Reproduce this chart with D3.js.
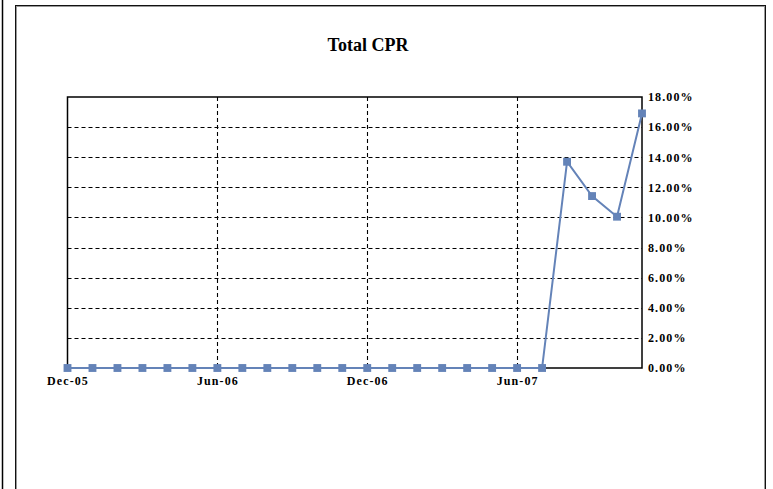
<!DOCTYPE html>
<html>
<head>
<meta charset="utf-8">
<script src="https://cdn.jsdelivr.net/npm/d3@7/dist/d3.min.js"></script>
<style>
  html, body { margin: 0; padding: 0; background: #fff; }
  svg { display: block; }
  .lbl { font-family: "Liberation Serif", "DejaVu Serif", serif; font-weight: bold; font-size: 12px; letter-spacing: 1.1px; fill: #000; }
</style>
</head>
<body>
<svg id="chart" width="773" height="489"></svg>
<script>
// Monthly observation labels, Dec-05 through Nov-07
const months = [
  "Dec-05","Jan-06","Feb-06","Mar-06","Apr-06","May-06","Jun-06","Jul-06",
  "Aug-06","Sep-06","Oct-06","Nov-06","Dec-06","Jan-07","Feb-07","Mar-07",
  "Apr-07","May-07","Jun-07","Jul-07","Aug-07","Sep-07","Oct-07","Nov-07"
];
// Total CPR for each month (fraction)
const cpr = [
  0,0,0,0,0,0,0,0,0,0,0,0,0,0,0,0,0,0,0,0,
  0.1370, 0.1142, 0.1005, 0.1691
];
// Labelled months on the date axis
const xTickLabels = ["Dec-05","Jun-06","Dec-06","Jun-07"];
// Value axis ticks
const yTicks = [0,0.02,0.04,0.06,0.08,0.10,0.12,0.14,0.16,0.18];

const svg = d3.select("#chart");

// outer frame
svg.append("line").attr("x1",2.5).attr("x2",2.5).attr("y1",0).attr("y2",489)
  .attr("stroke","#000").attr("stroke-width",1.5);
svg.append("rect").attr("x",15.5).attr("y",5.5).attr("width",750).attr("height",500)
  .attr("fill","none").attr("stroke","#111").attr("stroke-width",1);
svg.append("rect").attr("x",16.5).attr("y",6.5).attr("width",748).attr("height",500)
  .attr("fill","none").attr("stroke","#9a9a9a").attr("stroke-width",1);

const plot = {left: 67.5, right: 642, top: 97, bottom: 368};

const x = d3.scalePoint().domain(months).range([plot.left, plot.right]);
const y = d3.scaleLinear().domain([0, 0.18]).range([plot.bottom, plot.top]);

// title
svg.append("text")
  .attr("x", 368).attr("y", 51)
  .attr("text-anchor","middle")
  .style("font-family", '"Liberation Serif", "DejaVu Serif", serif')
  .style("font-weight","bold").style("font-size","18px")
  .text("Total CPR");

// horizontal dashed gridlines
svg.append("g").selectAll("line")
  .data(yTicks.filter(v => v > 0 && v < 0.18))
  .join("line")
  .attr("x1", plot.left).attr("x2", plot.right)
  .attr("y1", d => Math.round(y(d)) + 0.5).attr("y2", d => Math.round(y(d)) + 0.5)
  .attr("stroke","#000").attr("stroke-width",1.1).attr("stroke-dasharray","4,3");

// vertical dashed gridlines at labelled months
svg.append("g").selectAll("line")
  .data(xTickLabels.slice(1))
  .join("line")
  .attr("x1", d => Math.round(x(d)) + 0.5).attr("x2", d => Math.round(x(d)) + 0.5)
  .attr("y1", plot.top).attr("y2", plot.bottom)
  .attr("stroke","#000").attr("stroke-width",1.1).attr("stroke-dasharray","4,3");

// plot area border
svg.append("rect")
  .attr("x", plot.left).attr("y", plot.top)
  .attr("width", plot.right - plot.left).attr("height", plot.bottom - plot.top)
  .attr("fill","none").attr("stroke","#000").attr("stroke-width",1.5);

// value axis on the right
const yAxis = svg.append("g")
  .attr("transform", `translate(${plot.right},0)`)
  .call(d3.axisRight(y).tickValues(yTicks).tickFormat(d3.format(".2%")).tickSize(0).tickPadding(6));
yAxis.select(".domain").remove();
yAxis.selectAll("text").attr("class","lbl").attr("font-family",null).attr("font-size",null);

// date axis
const xAxis = svg.append("g")
  .attr("transform", `translate(0,${plot.bottom})`)
  .call(d3.axisBottom(x).tickValues(xTickLabels).tickSize(0).tickPadding(8));
xAxis.select(".domain").remove();
xAxis.selectAll("text").attr("class","lbl").attr("font-family",null).attr("font-size",null);

// series line
const color = "#6483b8";
svg.append("path")
  .datum(cpr)
  .attr("fill","none").attr("stroke", color).attr("stroke-width", 2)
  .attr("d", d3.line().x((d,i) => x(months[i])).y(d => y(d)));

// markers
svg.append("g").selectAll("path")
  .data(cpr)
  .join("path")
  .attr("transform", (d,i) => `translate(${x(months[i])},${y(d)})`)
  .attr("d", d3.symbol().type(d3.symbolSquare).size(62))
  .attr("fill", color);
</script>
</body>
</html>
